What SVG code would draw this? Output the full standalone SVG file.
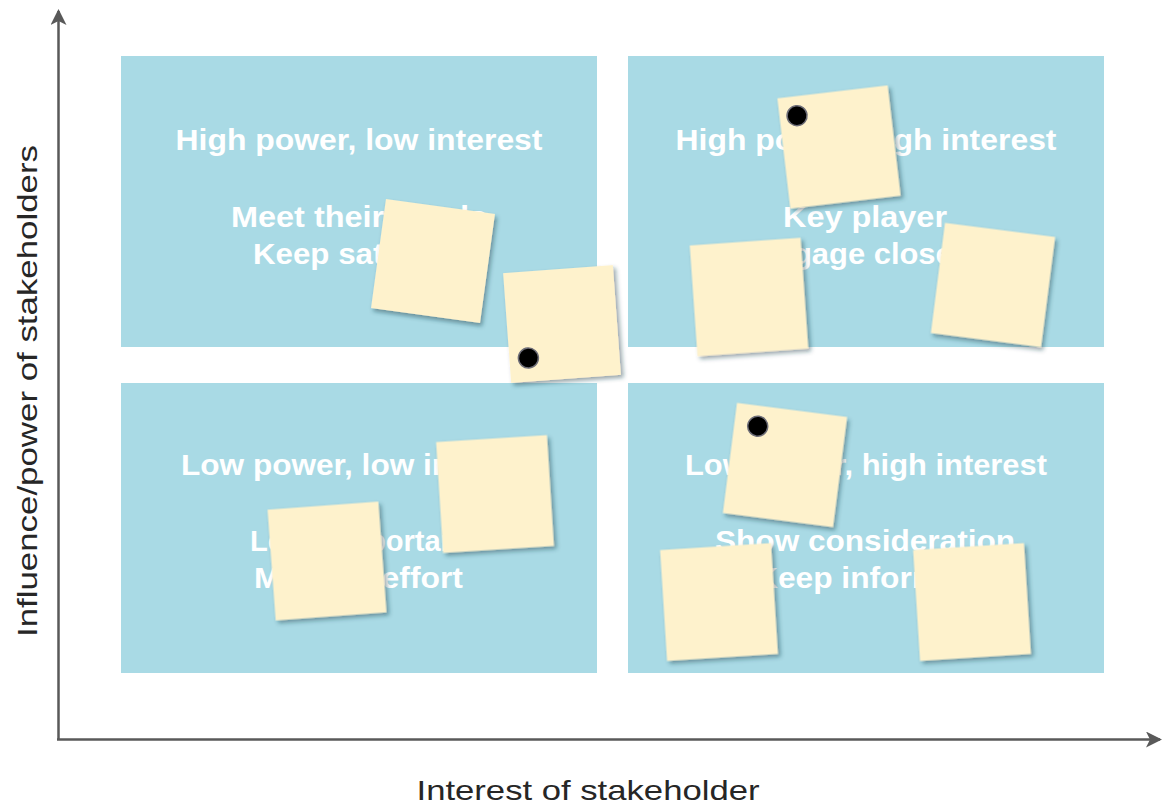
<svg xmlns="http://www.w3.org/2000/svg" width="1162" height="806" viewBox="0 0 1162 806">
  <style>
    .quad { fill: #a9dae5; }
    .qtext { font-family: "Liberation Sans", Arial, sans-serif; font-weight: bold; font-size: 29px; fill: #ffffff; text-anchor: middle; }
    .axis-label { font-family: "Liberation Sans", Arial, sans-serif; font-size: 28px; fill: #262626; }
    .axis { stroke: #595959; stroke-width: 2.5; fill: none; }
    .note { fill: #fef2cc; filter: url(#noteShadow); }
    .pin { fill: #000000; stroke: #6e6e78; stroke-width: 1.5; }
  </style>
  <defs>
    <filter id="noteShadow" x="-20%" y="-20%" width="150%" height="150%">
      <feDropShadow dx="2.5" dy="3" stdDeviation="2.2" flood-color="#1d3a44" flood-opacity="0.45"/>
    </filter>
    <marker id="axisHead" viewBox="0 0 16 16" refX="14" refY="8" markerWidth="16" markerHeight="16" markerUnits="userSpaceOnUse" orient="auto">
      <path d="M0,0 L16,8 L0,16 L4,8 Z" fill="#595959"/>
    </marker>
  </defs>

  <rect width="1162" height="806" fill="#ffffff"/>

  <!-- axes -->
  <g id="connectors">
    <line class="axis" x1="58.5" y1="740" x2="58.5" y2="11" marker-end="url(#axisHead)"/>
    <line class="axis" x1="57" y1="739.5" x2="1160" y2="739.5" marker-end="url(#axisHead)"/>
  </g>

  <text class="axis-label" x="588" y="800" text-anchor="middle" textLength="343" lengthAdjust="spacingAndGlyphs">Interest of stakeholder</text>
  <text class="axis-label" transform="translate(37,391) rotate(-90)" text-anchor="middle" textLength="492" lengthAdjust="spacingAndGlyphs">Influence/power of stakeholders</text>

  <!-- quadrants -->
  <g id="quad-high-power-low-interest">
    <rect class="quad" x="121" y="56" width="476" height="291"/>
    <text class="qtext" x="359" y="150" textLength="367" lengthAdjust="spacingAndGlyphs">High power, low interest</text>
    <text class="qtext" x="359" y="227" textLength="256" lengthAdjust="spacingAndGlyphs">Meet their needs</text>
    <text class="qtext" x="359" y="264" textLength="212" lengthAdjust="spacingAndGlyphs">Keep satisfied</text>
  </g>
  <g id="quad-high-power-high-interest">
    <rect class="quad" x="628" y="56" width="476" height="291"/>
    <text class="qtext" x="866" y="150" textLength="381" lengthAdjust="spacingAndGlyphs">High power, high interest</text>
    <text class="qtext" x="865" y="227" textLength="164" lengthAdjust="spacingAndGlyphs">Key player</text>
    <text class="qtext" x="866" y="264" textLength="225" lengthAdjust="spacingAndGlyphs">Engage closely</text>
  </g>
  <g id="quad-low-power-low-interest">
    <rect class="quad" x="121" y="383" width="476" height="290"/>
    <text class="qtext" x="359" y="475" textLength="356" lengthAdjust="spacingAndGlyphs">Low power, low interest</text>
    <text class="qtext" x="359" y="551" textLength="218" lengthAdjust="spacingAndGlyphs">Least important</text>
    <text class="qtext" x="358.5" y="588" textLength="209" lengthAdjust="spacingAndGlyphs">Minimal effort</text>
  </g>
  <g id="quad-low-power-high-interest">
    <rect class="quad" x="628" y="383" width="476" height="290"/>
    <text class="qtext" x="866" y="475" textLength="362" lengthAdjust="spacingAndGlyphs">Low power, high interest</text>
    <text class="qtext" x="865" y="551" textLength="300" lengthAdjust="spacingAndGlyphs">Show consideration</text>
    <text class="qtext" x="866" y="588" textLength="222" lengthAdjust="spacingAndGlyphs">Keep informed</text>
  </g>

  <!-- sticky notes -->
  <g id="note-1" transform="translate(433,261) rotate(7.8)">
    <rect class="note" x="-55" y="-55" width="110" height="110"/>
  </g>
  <g id="note-2" transform="translate(562,324) rotate(-4.2)">
    <rect class="note" x="-55" y="-55" width="110" height="110"/>
    <circle class="pin" cx="-36" cy="31.5" r="10"/>
  </g>
  <g id="note-3" transform="translate(839,147) rotate(-6.7)">
    <rect class="note" x="-55.5" y="-55.5" width="111" height="111"/>
    <circle class="pin" cx="-38" cy="-36" r="10"/>
  </g>
  <g id="note-4" transform="translate(749,297) rotate(-4)">
    <rect class="note" x="-55.5" y="-55.5" width="111" height="111"/>
  </g>
  <g id="note-5" transform="translate(993,285) rotate(7.3)">
    <rect class="note" x="-55.5" y="-55.5" width="111" height="111"/>
  </g>
  <g id="note-6" transform="translate(495,494) rotate(-3.6)">
    <rect class="note" x="-55.5" y="-55.5" width="111" height="111"/>
  </g>
  <g id="note-7" transform="translate(327,561) rotate(-4.2)">
    <rect class="note" x="-55.5" y="-55.5" width="111" height="111"/>
  </g>
  <g id="note-8" transform="translate(785,465) rotate(7.3)">
    <rect class="note" x="-55.5" y="-55.5" width="111" height="111"/>
    <circle class="pin" cx="-32" cy="-35" r="10"/>
  </g>
  <g id="note-9" transform="translate(719,602) rotate(-3.6)">
    <rect class="note" x="-55.5" y="-55.5" width="111" height="111"/>
  </g>
  <g id="note-10" transform="translate(972,602) rotate(-3.6)">
    <rect class="note" x="-55.5" y="-55.5" width="111" height="111"/>
  </g>
</svg>
